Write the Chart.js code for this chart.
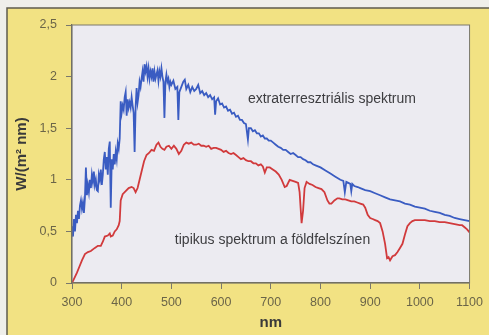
<!DOCTYPE html>
<html lang="hu">
  <head>
    <meta charset="UTF-8" />
    <meta name="viewport" content="width=device-width, initial-scale=1.0" />
    <script src="https://cdn.jsdelivr.net/npm/chart.js@4.4.0/dist/chart.umd.min.js"></script>
    <title>Napspektrum</title>
    <style>
      html, body { margin: 0; padding: 0; background: #efefea; }
      canvas { display: block; }
    </style>
  </head>
  <body>
    <canvas id="myChart" width="489" height="335"></canvas>
    <script>
      // extraterresztriális spektrum (nm, W/(m2 nm))
      const extraNm = [
        300, 302, 304, 306, 308, 310, 312, 314, 316, 318, 320, 322, 324, 326, 328, 330, 332, 334, 336, 338,
        340, 342, 344, 346, 348, 350, 352, 354, 356, 358, 360, 362, 364, 366, 368, 370, 372, 374, 376, 378,
        380, 382, 384, 386, 388, 390, 392, 394, 396, 398, 400, 402, 404, 406, 408, 410, 412, 414, 416, 418,
        420, 422, 424, 426, 428, 430, 432, 434, 436, 438, 440, 442, 444, 446, 448, 450, 452, 454, 456, 458,
        460, 462, 464, 466, 468, 470, 472, 474, 476, 478, 480, 482, 484, 486, 488, 490, 492, 494, 496, 498,
        500, 504, 508, 512, 514, 516, 520, 524, 527, 530, 534, 538, 542, 546, 550, 554, 558, 562, 566, 570,
        574, 578, 582, 586, 588, 590, 594, 598, 602, 606, 610, 614, 618, 622, 626, 630, 634, 638, 642, 646,
        650, 654, 656, 660, 664, 668, 672, 676, 680, 684, 688, 692, 696, 700, 705, 710, 715, 720, 725, 730,
        735, 740, 745, 750, 755, 760, 765, 770, 775, 780, 785, 790, 795, 800, 810, 820, 830, 840, 846, 849,
        852, 856, 860, 862, 864, 868, 875, 880, 890, 900, 910, 920, 930, 940, 950, 960, 970, 980, 990, 1000,
        1010, 1020, 1030, 1040, 1050, 1060, 1070, 1080, 1090, 1100
      ];
      const extraW = [
        0.55, 0.45, 0.62, 0.5, 0.66, 0.58, 0.7, 0.62, 0.75, 0.8, 0.72, 0.78, 0.68, 0.82, 1.12, 0.85, 0.95, 0.88, 1.0, 0.92,
        1.05, 0.98, 1.08, 0.95, 1.0, 0.9, 0.89, 1.05, 1.0, 1.1, 0.95, 1.05, 1.2, 1.27, 1.1, 1.22, 1.05, 1.3, 1.37, 0.73,
        1.2, 1.1, 1.25, 1.15, 1.27, 1.2, 1.35, 1.3, 1.4, 1.76, 1.65, 1.72, 1.68, 1.8, 1.85, 1.62, 1.78, 1.7, 1.75, 1.7,
        1.8, 1.72, 1.65, 1.27, 1.7, 1.89, 1.75, 1.82, 1.95, 1.9, 1.98, 2.05, 1.95, 2.12, 2.05, 2.1, 2.0, 2.08, 1.98, 2.05,
        2.0, 2.08, 1.95, 2.05, 1.98, 2.02, 2.06, 1.96, 2.05, 2.0, 2.08, 2.0, 1.95, 1.6, 1.95, 2.02, 1.95, 1.98, 1.9, 1.95,
        1.92, 1.96, 1.88, 1.9, 1.58, 1.85, 1.9, 1.95, 1.97, 1.88, 1.92, 1.85, 1.9, 1.86, 1.88, 1.92, 1.84, 1.86, 1.82, 1.84,
        1.8, 1.82, 1.78, 1.8, 1.63, 1.76, 1.79, 1.73, 1.74, 1.7, 1.71, 1.67, 1.68, 1.64, 1.65, 1.61, 1.62, 1.58, 1.58, 1.55,
        1.54, 1.39, 1.5, 1.5, 1.47, 1.48, 1.45, 1.45, 1.42, 1.43, 1.4, 1.4, 1.38, 1.38, 1.36, 1.34, 1.32, 1.31, 1.29, 1.29,
        1.27, 1.25, 1.26, 1.24, 1.22, 1.22, 1.2, 1.19, 1.17, 1.17, 1.15, 1.14, 1.13, 1.12, 1.09, 1.06, 1.03, 1.0, 0.99, 0.88,
        0.98, 0.97, 0.96, 0.89, 0.96, 0.94, 0.93, 0.92, 0.9, 0.89, 0.87, 0.85, 0.83, 0.81, 0.8, 0.79, 0.77, 0.76, 0.74, 0.73,
        0.72, 0.7, 0.69, 0.68, 0.66, 0.65, 0.63, 0.62, 0.61, 0.6
      ];

      // tipikus spektrum a földfelszínen
      const groundNm = [
        300, 305, 310, 315, 320, 326, 332, 338, 346, 352, 358, 362, 366, 372, 376, 378, 382, 386, 390, 394,
        396, 398, 402, 408, 414, 420, 424, 428, 432, 436, 440, 445, 450, 455, 460, 465, 470, 474, 478, 482,
        486, 490, 495, 500, 505, 510, 515, 520, 525, 530, 535, 540, 545, 550, 555, 560, 565, 570, 575, 580,
        585, 590, 595, 600, 605, 610, 615, 620, 625, 630, 635, 640, 645, 650, 655, 660, 665, 670, 675, 680,
        684, 688, 692, 698, 704, 710, 716, 722, 728, 732, 738, 744, 750, 755, 758, 762, 765, 768, 772, 778,
        784, 790, 796, 802, 808, 814, 818, 822, 828, 834, 838, 844, 850, 856, 862, 868, 874, 880, 886, 890,
        895, 900, 905, 910, 915, 920, 925, 930, 934, 937, 940, 945, 950, 955, 960, 965, 970, 975, 980, 985,
        990, 1000, 1010, 1020, 1030, 1040, 1050, 1060, 1070, 1080, 1085, 1090, 1095, 1100
      ];
      const groundW = [
        0, 0.05, 0.1, 0.16, 0.22, 0.28, 0.3, 0.31, 0.34, 0.36, 0.36, 0.4, 0.45, 0.46, 0.48, 0.45, 0.46, 0.5, 0.52, 0.56,
        0.6, 0.8, 0.86, 0.89, 0.92, 0.93, 0.92, 0.88, 0.92, 1.0, 1.08, 1.18, 1.24, 1.26, 1.29, 1.28, 1.34, 1.36, 1.32, 1.3,
        1.29, 1.32, 1.33, 1.3, 1.33, 1.3, 1.25, 1.28, 1.34, 1.36, 1.35, 1.36, 1.34, 1.34, 1.35, 1.33, 1.33, 1.32, 1.33, 1.3,
        1.31, 1.31, 1.3, 1.29, 1.27, 1.28, 1.26, 1.25, 1.26, 1.24, 1.22, 1.2, 1.21, 1.19, 1.18, 1.18, 1.16, 1.16, 1.14, 1.15,
        1.13, 1.07, 1.12, 1.12, 1.1, 1.08, 1.05, 1.0, 0.93, 0.94, 1.0, 0.99, 0.98, 0.97, 0.88, 0.58, 0.7, 0.92, 0.98, 0.96,
        0.95, 0.93, 0.92, 0.91, 0.88, 0.8, 0.77, 0.77, 0.8, 0.82, 0.82, 0.81, 0.81, 0.8, 0.79, 0.79, 0.78, 0.77, 0.76, 0.73,
        0.66, 0.63, 0.62, 0.61, 0.6, 0.58, 0.5, 0.38, 0.24, 0.25, 0.22, 0.26, 0.27, 0.3, 0.34, 0.38, 0.47, 0.55, 0.58, 0.6,
        0.61, 0.61, 0.61, 0.6, 0.6, 0.59, 0.59, 0.58, 0.57, 0.56, 0.56, 0.54, 0.52, 0.49
      ];

      const xTicks = [300, 400, 500, 600, 700, 800, 900, 1000, 1100];
      const yTicks = [0, 0.5, 1, 1.5, 2, 2.5];

      const labels = [
        { text: "extraterresztriális spektrum", nm: 654, w: 1.786 },
        { text: "tipikus spektrum a földfelszínen", nm: 507, w: 0.42 },
      ];

      function toPoints(xs, ys) {
        return xs.map(function (x, i) {
          return { x: x, y: ys[i] };
        });
      }

      // háttér: sárga keret + világos rajzterület
      const backgroundPlugin = {
        id: "background",
        beforeDraw: function (chart) {
          var ctx = chart.ctx;
          var a = chart.chartArea;
          ctx.save();
          ctx.fillStyle = "#efefea";
          ctx.fillRect(0, 0, chart.width, chart.height);
          ctx.fillStyle = "#f2e283";
          ctx.fillRect(7, 8, chart.width - 7, chart.height - 8);
          ctx.strokeStyle = "#5f5c4e";
          ctx.lineWidth = 1.5;
          ctx.beginPath();
          ctx.moveTo(7, chart.height);
          ctx.lineTo(7, 8);
          ctx.lineTo(chart.width, 8);
          ctx.stroke();
          ctx.fillStyle = "#ecebf1";
          ctx.fillRect(a.left, a.top, a.right - a.left, a.bottom - a.top);
          ctx.restore();
        },
        afterDatasetsDraw: function (chart) {
          var ctx = chart.ctx;
          var a = chart.chartArea;
          ctx.save();
          ctx.strokeStyle = "#7a786c";
          ctx.lineWidth = 1;
          ctx.strokeRect(a.left, a.top, a.right - a.left, a.bottom - a.top);
          ctx.fillStyle = "#3d3d40";
          ctx.font = "14px 'Liberation Sans', Arial, sans-serif";
          ctx.textBaseline = "middle";
          ctx.textAlign = "left";
          labels.forEach(function (l) {
            ctx.fillText(
              l.text,
              chart.scales.x.getPixelForValue(l.nm),
              chart.scales.y.getPixelForValue(l.w)
            );
          });
          ctx.restore();
        },
      };

      var ctx = document.getElementById("myChart");
      var tickFont = { family: "'Liberation Sans', Arial, sans-serif", size: 12.5 };

      var myChart = new Chart(ctx, {
        type: "line",
        data: {
          datasets: [
            {
              label: "extraterresztriális spektrum",
              data: toPoints(extraNm, extraW),
              borderColor: "#3a5cc2",
              borderWidth: 1.8,
              pointRadius: 0,
              tension: 0,
            },
            {
              label: "tipikus spektrum a földfelszínen",
              data: toPoints(groundNm, groundW),
              borderColor: "#d13a3c",
              borderWidth: 1.8,
              pointRadius: 0,
              tension: 0,
            },
          ],
        },
        options: {
          responsive: false,
          animation: false,
          layout: { padding: { left: 0, top: 25, right: 19, bottom: 0 } },
          plugins: {
            legend: { display: false },
            tooltip: { enabled: false },
          },
          scales: {
            x: {
              type: "linear",
              min: 300,
              max: 1100,
              afterBuildTicks: function (scale) {
                scale.ticks = xTicks.map(function (v) { return { value: v }; });
              },
              afterFit: function (scale) {
                scale.height = 52;
              },
              grid: {
                drawOnChartArea: false,
                tickLength: 6,
                color: "#7a786c",
              },
              border: { color: "#6a685c", width: 1.2 },
              ticks: {
                color: "#6b6548",
                font: tickFont,
                padding: 6,
                maxRotation: 0,
                callback: function (v) {
                  return String(v);
                },
              },
              title: {
                display: true,
                text: "nm",
                color: "#3a3a3a",
                font: { family: "'Liberation Sans', Arial, sans-serif", size: 15, weight: "bold" },
                padding: { top: 0, bottom: 3 },
              },
            },
            y: {
              min: 0,
              max: 2.5,
              afterBuildTicks: function (scale) {
                scale.ticks = yTicks.map(function (v) { return { value: v }; });
              },
              afterFit: function (scale) {
                scale.width = 72;
              },
              grid: {
                drawOnChartArea: false,
                tickLength: 6,
                color: "#7a786c",
              },
              border: { color: "#6a685c", width: 1.2 },
              ticks: {
                color: "#6b6548",
                font: tickFont,
                padding: 9,
                callback: function (v) {
                  return String(v).replace(".", ",");
                },
              },
              title: {
                display: true,
                text: "W/(m² nm)",
                color: "#3a3a3a",
                font: { family: "'Liberation Sans', Arial, sans-serif", size: 15, weight: "bold" },
                padding: { top: 13, bottom: 0 },
              },
            },
          },
        },
        plugins: [backgroundPlugin],
      });
    </script>
  </body>
</html>
